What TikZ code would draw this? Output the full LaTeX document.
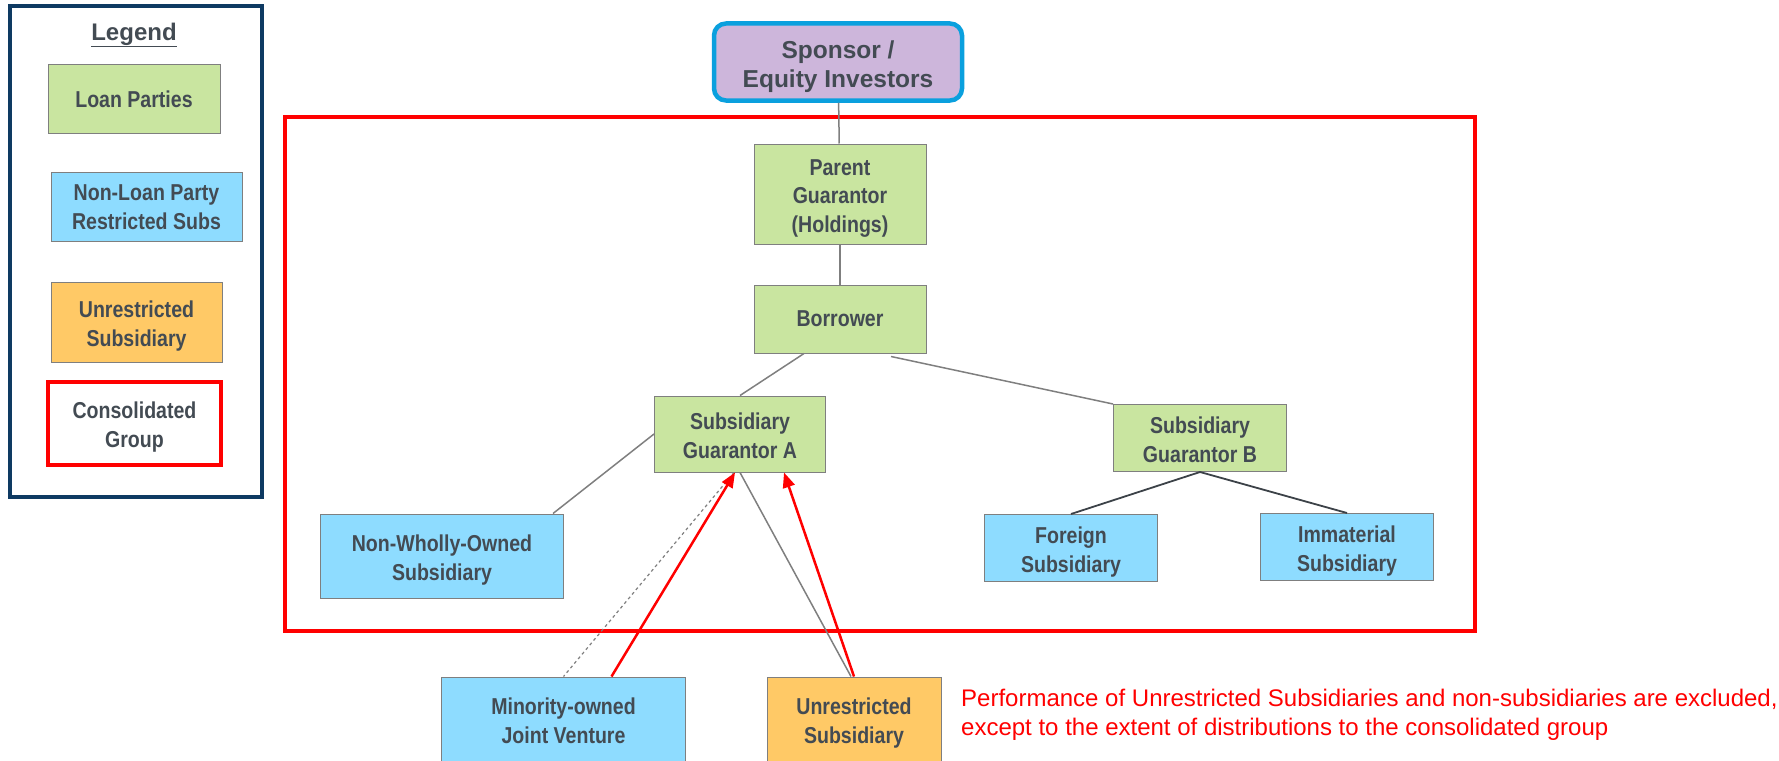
\documentclass[tikz,border=0pt]{standalone}
\usepackage{fontspec}
\setmainfont{Liberation Sans}[FakeStretch=0.85]
\newfontfamily\widefont{Liberation Sans}
\usetikzlibrary{calc}
\usetikzlibrary{arrows.meta}

\definecolor{loangreen}{HTML}{C9E5A0}
\definecolor{subblue}{HTML}{8EDCFF}
\definecolor{unrorange}{HTML}{FFC966}
\definecolor{sponsorpurple}{HTML}{CDB6DB}
\definecolor{sponsorblue}{HTML}{0AA0DE}
\definecolor{legendnavy}{HTML}{0E3A62}
\definecolor{groupred}{HTML}{FF0000}
\definecolor{txtgray}{HTML}{434B53}
\definecolor{boxgray}{HTML}{7F7F7F}
\definecolor{linkdark}{HTML}{3C4248}

\newcommand{\boxfont}{\fontsize{23}{29}\selectfont\bfseries}
% stacked lines, set a little below the middle of the box
\newcommand{\boxtext}[2][4pt]{\raisebox{-#1}[\height][\depth]{\begin{tabular}{@{}c@{}}#2\end{tabular}}}

\tikzset{
  entity/.style={draw=boxgray, line width=1pt, align=center, inner sep=0pt,
    text=txtgray, font=\boxfont},
  dims/.style 2 args={minimum width=#1, minimum height=#2},
  loanparty/.style={entity, fill=loangreen},
  restrictedsub/.style={entity, fill=subblue},
  unrestrictedsub/.style={entity, fill=unrorange},
  link/.style={draw=boxgray, line width=1.5pt},
  flow/.style={draw=groupred, line width=2.5pt, -{Triangle[length=15pt,width=12pt]}}
}

\begin{document}
\begin{tikzpicture}[x=1pt, y=-1pt]
  \useasboundingbox (0,0) rectangle (1779,760);

  % Legend
  \draw[legendnavy, line width=4pt] (10,6) rectangle (262,497);
  \node[text=txtgray, font=\widefont\fontsize{24}{28}\selectfont\bfseries] (legendtitle) at (134,35) {\underline{Legend}};
  \node[loanparty, dims={172pt}{68pt}] (keyloan) at (134,99) {Loan Parties};
  \node[restrictedsub, dims={191pt}{69pt}] (keyrestricted) at (146.5,207) {\boxtext[2pt]{Non-Loan Party\\Restricted Subs}};
  \node[unrestrictedsub, dims={171pt}{80pt}] (keyunrestricted) at (136.5,322) {\boxtext{Unrestricted\\Subsidiary}};
  \node[entity, draw=groupred, line width=3.5pt, dims={173pt}{83pt}] (keygroup) at (134.5,423.5) {\boxtext{Consolidated\\Group}};

  % The consolidated group
  \draw[groupred, line width=4pt] (285,117) rectangle (1475,631);

  % The entities
  \node[entity, draw=sponsorblue, line width=4.5pt, fill=sponsorpurple, rounded corners=12pt,
    dims={248pt}{77pt}, font=\widefont\fontsize{24.5}{29}\selectfont\bfseries] (sponsor) at (838,62) {\boxtext[5pt]{Sponsor /\\Equity Investors}};
  \node[loanparty, dims={172pt}{100pt}, font=\fontsize{23}{28.5}\selectfont\bfseries] (parent) at (840,194) {\boxtext[4pt]{Parent\\Guarantor\\(Holdings)}};
  \node[loanparty, dims={172pt}{68pt}] (borrower) at (840,319) {Borrower};
  \node[loanparty, dims={171pt}{76pt}] (subA) at (740,434) {\boxtext{Subsidiary\\Guarantor A}};
  \node[loanparty, dims={173pt}{67pt}] (subB) at (1200,438) {\boxtext{Subsidiary\\Guarantor B}};
  \node[restrictedsub, dims={243pt}{84pt}] (nonwholly) at (442,556) {\boxtext{Non-Wholly-Owned\\Subsidiary}};
  \node[restrictedsub, dims={173pt}{67pt}] (foreign) at (1071,548) {\boxtext{Foreign\\Subsidiary}};
  \node[restrictedsub, dims={173pt}{67pt}] (immaterial) at (1347,547) {\boxtext{Immaterial\\Subsidiary}};
  \node[restrictedsub, dims={244pt}{88pt}] (jointventure) at (563.5,721) {\boxtext[2pt]{Minority-owned\\Joint Venture}};
  \node[unrestrictedsub, dims={174pt}{88pt}] (unrestricted) at (854,721) {\boxtext[2pt]{Unrestricted\\Subsidiary}};

  % Ownership links
  \draw[link] (sponsor) -- (parent);
  \draw[link] (parent) -- (borrower);
  \draw[link] ($(borrower.south)+(-36,0)$) -- (subA.north);
  \draw[link] ($(borrower.south)+(51,3)$) -- (subB.north west);
  \draw[link] (subA.west) -- ($(nonwholly.north)+(111,0)$);
  \draw[link] (subA.south) -- ($(unrestricted.north)+(-3,0)$);
  \draw[link, dashed, line width=1.2pt] ($(subA.south)+(-6,0)$) -- (jointventure.north);
  \draw[linkdark, line width=1.8pt] (subB.south) -- (foreign.north);
  \draw[linkdark, line width=1.8pt] (subB.south) -- (immaterial.north);

  % Distributions back to the group
  \draw[flow] ($(jointventure.north)+(48,0)$) -- ($(subA.south)+(-5,0)$);
  \draw[flow] (unrestricted.north) -- ($(subA.south)+(44,0)$);

  % The note
  \node[text=groupred, align=left, anchor=west, inner sep=0pt, font=\widefont\fontsize{24}{28.5}\selectfont] (note) at (961,715)
    {Performance of Unrestricted Subsidiaries and non-subsidiaries are excluded,\\except to the extent of distributions to the consolidated group};
\end{tikzpicture}
\end{document}
